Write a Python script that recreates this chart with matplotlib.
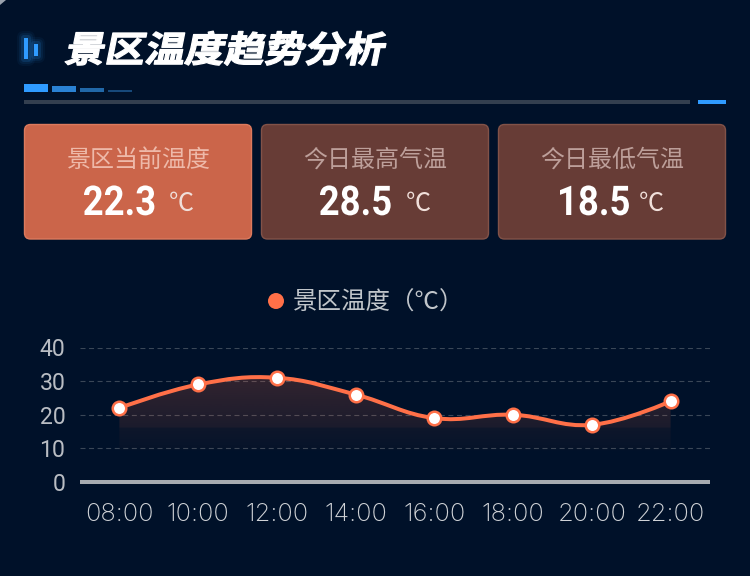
import numpy as np
import matplotlib
matplotlib.use('Agg')
import matplotlib.pyplot as plt
from matplotlib.patches import FancyBboxPatch, Rectangle, Circle, PathPatch, Polygon
from matplotlib.path import Path
from matplotlib.text import Text
from matplotlib.textpath import TextPath
from matplotlib.transforms import Affine2D

plt.rcParams['font.family'] = ['Noto Sans CJK SC', 'DejaVu Sans']

title = '景区温度趋势分析'
card_labels = ['景区当前温度', '今日最高气温', '今日最低气温']
card_values = ['22.3', '28.5', '18.5']
card_unit = '℃'
series_name = '景区温度（℃）'
hours = ['08:00', '10:00', '12:00', '14:00', '16:00', '18:00', '20:00', '22:00']
temps = [22, 29, 31, 26, 19, 20, 17, 24]
y_ticks = [0, 10, 20, 30, 40]

W, H = 750, 576
BG = '#001129'
ORANGE = '#ff7048'
BLUE = '#2f9bff'


class WarpedText(Text):
    """ Real text drawn as a path, so it can be stretched and slanted """

    def __init__(self, *args, sx=1.0, shear=0.0, stroke=0.0, **kwargs):
        super().__init__(*args, **kwargs)
        self.sx = sx
        self.shear = shear
        self.stroke = stroke

    def _warped(self):
        px = self.get_fontsize() * fig.dpi / 72
        tp = TextPath((0, 0), self.get_text(), size=px, prop=self.get_fontproperties())
        ext = tp.get_extents()
        x, y = self.get_transform().transform(self.get_position())
        tr = (Affine2D().scale(self.sx, 1).skew(np.arctan(self.shear), 0)
              .translate(x - ext.x0 * self.sx, y))
        return tp, tr

    def get_window_extent(self, renderer=None, dpi=None):
        tp, tr = self._warped()
        return tp.transformed(tr).get_extents()

    def draw(self, renderer):
        tp, tr = self._warped()
        col = matplotlib.colors.to_rgb(self.get_color())
        gc = renderer.new_gc()
        gc.set_linewidth(self.stroke)
        gc.set_foreground(col)
        gc.set_alpha(1)
        renderer.draw_path(gc, tp, tr, col)
        gc.restore()


def smooth_path(xs, ys, s=0.4):
    """ Cubic bezier through the points, same idea as a smoothed category line """
    p = np.column_stack([xs, ys]).astype(float)
    verts = [p[0]]
    codes = [Path.MOVETO]
    for i in range(len(p) - 1):
        prev_p = p[max(i - 1, 0)]
        next_p = p[min(i + 2, len(p) - 1)]
        c1 = p[i] + (p[i + 1] - prev_p) * s / 2 if i > 0 else p[i]
        c2 = p[i + 1] - (next_p - p[i]) * s / 2 if i < len(p) - 2 else p[i + 1]
        verts += [c1, c2, p[i + 1]]
        codes += [Path.CURVE4] * 3
    return verts, codes


fig = plt.figure(figsize=(W / 100, H / 100), dpi=100, facecolor=BG)

# overlay in pixel coordinates for the header and the cards
bg = fig.add_axes([0, 0, 1, 1])
bg.set_xlim(0, W)
bg.set_ylim(H, 0)
bg.axis('off')


def px_text(x, y, s, size, **kw):
    return bg.text(x, y, s, fontsize=size * 0.72, ha=kw.pop('ha', 'center'), va=kw.pop('va', 'center'), **kw)


# light corner of the panel
bg.add_patch(Polygon([(0, 0), (6, 0), (0, 5)], fc='#9aa2ad', ec='none'))

# header icon with a soft glow
for x, top, bottom in [(24, 38, 59), (34, 44, 56)]:
    for r, a in [(7, 0.05), (5, 0.08), (3, 0.14)]:
        bg.add_patch(FancyBboxPatch((x, top), 4, bottom - top, boxstyle='round,pad=%s' % r,
                                    fc=BLUE, ec='none', alpha=a))
    bg.add_patch(Rectangle((x, top), 4, bottom - top, fc=BLUE, ec='none'))

t = WarpedText(65, 62, title, color='white', fontsize=36 * 0.72, fontweight='bold',
               fontfamily='Noto Sans CJK SC', sx=1.11, shear=0.2, stroke=0.9, transform=bg.transData)
bg.add_artist(t)

# bars under the title
for x, top, col in [(24, 84, BLUE), (52, 86, '#2a82d4'), (80, 88, '#2168a8'), (108, 90, '#17497a')]:
    bg.add_patch(Rectangle((x, top), 24, 92 - top, fc=col, ec='none'))
bg.add_patch(Rectangle((24, 100), 666, 4, fc='#333f4f', ec='none'))
bg.add_patch(Rectangle((698, 100), 28, 4, fc=BLUE, ec='none'))

# cards
card_x = [24, 261, 498]
value_x = [84, 320, 560]
unit_x = [181, 418, 651]
for i in range(3):
    x = card_x[i]
    fc, ec, lc = ('#cb654a', '#dd7a5d', '#eeb9a9') if i == 0 else ('#673c36', '#815248', '#bd9f9a')
    bg.add_patch(FancyBboxPatch((x + 6.5, 130.5), 215, 102.5, boxstyle='round,pad=6', fc=fc, ec=ec, lw=1))
    px_text(x + 114.5, 160, card_labels[i], 24, color=lc)
    nt = WarpedText(value_x[i], 215, card_values[i], color='white', fontsize=41 * 0.72, fontweight='bold',
                    fontfamily='Roboto', sx=0.89, transform=bg.transData)
    bg.add_artist(nt)
    px_text(unit_x[i], 204, card_unit, 25, color='#f0dfda', fontweight='light')

# legend
bg.add_patch(Circle((276, 301), 8, fc=ORANGE, ec='none'))
px_text(293, 303, series_name, 24.5, color='#c0c5ca', ha='left')

# chart
ax = fig.add_axes([80 / W, (H - 482) / H, 630 / W, (482 - 347.5) / H])
ax.patch.set_alpha(0)
xs = np.arange(len(hours))
ax.set_xlim(-0.5, len(hours) - 0.5)
ax.set_ylim(0, 40)
for s in ['top', 'left', 'right']:
    ax.spines[s].set_visible(False)
ax.spines['bottom'].set_color('#a7abb1')
ax.spines['bottom'].set_linewidth(4 * 0.72)
ax.spines['bottom'].set_capstyle('butt')
ax.set_yticks(y_ticks)
ax.set_xticks(xs)
ax.set_xticklabels(hours, fontfamily='Inter', fontweight='light')
ax.set_yticklabels([str(v) for v in y_ticks], fontfamily='Roboto')
ax.tick_params(axis='x', length=0, colors='#d0d3d7', labelsize=25.5 * 0.72, pad=15)
ax.tick_params(axis='y', length=0, colors='#b9bdc3', labelsize=23 * 0.72, pad=10.5)
ax.grid(axis='y', color='#3a4757', lw=0.8, ls=(0, (4.5, 3.2)))
ax.set_axisbelow(True)

verts, codes = smooth_path(xs, temps)

# area under the line, fades out around 10
grad_y = np.linspace(0, 40, 200)
alpha = np.interp(grad_y, [9, 10, 16, 16.2, 31, 40], [0, 0.03, 0.06, 0.11, 0.2, 0.2])
rgba = np.zeros((200, 1, 4))
rgba[..., :3] = matplotlib.colors.to_rgb(ORANGE)
rgba[..., 3] = alpha[:, None]
im = ax.imshow(rgba, origin='lower', extent=[-0.5, 7.5, 0, 40], aspect='auto', zorder=1)
area_verts = verts + [(xs[-1], 0), (xs[0], 0), verts[0]]
area_codes = codes + [Path.LINETO, Path.LINETO, Path.CLOSEPOLY]
im.set_clip_path(PathPatch(Path(area_verts, area_codes), transform=ax.transData))

ax.add_patch(PathPatch(Path(verts, codes), fc='none', ec=ORANGE, lw=4 * 0.72, zorder=3))
ax.plot(xs, temps, ls='none', marker='o', ms=13.5 * 0.72, mfc='white', mec=ORANGE, mew=2.5 * 0.72, zorder=4,
        clip_on=False)

fig.savefig('out.png', dpi=100, facecolor=BG)
